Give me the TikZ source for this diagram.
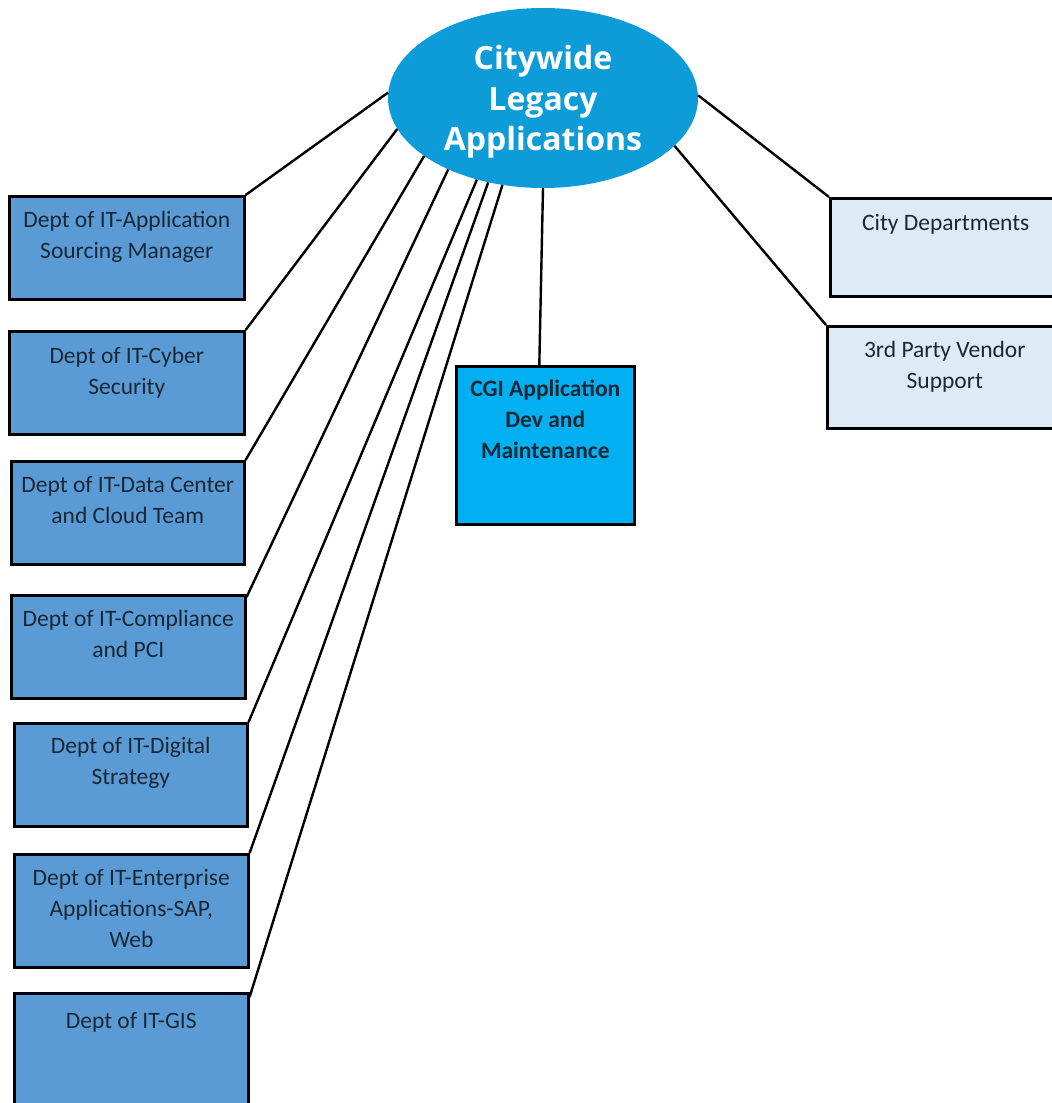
\documentclass[tikz,border=0pt]{standalone}
\usepackage{fontspec}
\setmainfont{Carlito}
\newfontfamily\headfont{Open Sans}
\usetikzlibrary{shapes.geometric}
\definecolor{deptblue}{HTML}{5B9BD5}
\definecolor{cgiblue}{HTML}{00B0F0}
\definecolor{hubblue}{HTML}{0E9CD8}
\definecolor{paleblue}{HTML}{DEEBF7}
\definecolor{inkdark}{HTML}{1A2836}
\tikzset{
  boxbase/.style={draw=black, line width=2.6pt, inner sep=0pt, anchor=north west},
  deptbox/.style={boxbase, fill=deptblue},
  cgibox/.style={boxbase, fill=cgiblue},
  palebox/.style={boxbase, fill=paleblue},
  boxtext/.style={anchor=north, inner sep=0pt, align=center, text=inkdark,
    font=\fontsize{23.5}{31}\selectfont, execute at begin node=\strut},
  link/.style={draw=black, line width=2.4pt},
}
\begin{document}
\begin{tikzpicture}[x=1pt, y=-1pt]
\useasboundingbox (0,0) rectangle (1052,1103);
\clip (0,0) rectangle (1052,1103);
\fill[white] (0,0) rectangle (1052,1103);

% central hub
\node[ellipse, fill=hubblue, minimum width=310pt, minimum height=180pt, inner sep=0pt]
  (hub) at (543,98) {};
\node[align=center, text=white, inner sep=0pt,
  font=\headfont\bfseries\fontsize{32}{40.5}\selectfont] (hubtext) at (543,102)
  {Citywide\\Legacy\\Applications};

% IT department boxes on the left
\node[deptbox, minimum width=235pt, minimum height=103pt] (d1) at (8,195) {};
\node[deptbox, minimum width=235pt, minimum height=103pt] (d2) at (8,330) {};
\node[deptbox, minimum width=233pt, minimum height=103pt] (d3) at (10,460) {};
\node[deptbox, minimum width=234pt, minimum height=103pt] (d4) at (10,594) {};
\node[deptbox, minimum width=233pt, minimum height=103pt] (d5) at (13,722) {};
\node[deptbox, minimum width=234pt, minimum height=113pt] (d6) at (13,853) {};
\node[deptbox, minimum width=234pt, minimum height=140pt] (d7) at (13,992) {};

\node[boxtext] (t1) at ([yshift=-16pt]d1.north) {Dept of IT-Application\\Sourcing Manager};
\node[boxtext] (t2) at ([yshift=-17pt]d2.north) {Dept of IT-Cyber\\Security};
\node[boxtext] (t3) at ([yshift=-16.5pt]d3.north) {Dept of IT-Data Center\\and Cloud Team};
\node[boxtext] (t4) at ([yshift=-16pt]d4.north) {Dept of IT-Compliance\\and PCI};
\node[boxtext] (t5) at ([yshift=-14.5pt]d5.north) {Dept of IT-Digital\\Strategy};
\node[boxtext] (t6) at ([yshift=-16pt]d6.north) {Dept of IT-Enterprise\\Applications-SAP,\\Web};
\node[boxtext] (t7) at ([yshift=-14.5pt]d7.north) {Dept of IT-GIS};

% development and maintenance box
\node[cgibox, minimum width=178pt, minimum height=158pt] (cgi) at (455,365) {};
\node[boxtext, font=\bfseries\fontsize{23.5}{31}\selectfont] (tc) at ([yshift=-14.5pt]cgi.north)
  {CGI Application\\Dev and\\Maintenance};

% boxes on the right
\node[palebox, minimum width=231pt, minimum height=98pt] (city) at (829,197) {};
\node[palebox, minimum width=235pt, minimum height=102pt] (vendor) at (826,325) {};
\node[boxtext] (tcity) at ([yshift=-12pt]city.north) {City Departments};
\node[boxtext] (tvendor) at ([yshift=-15.5pt]vendor.north) {3rd Party Vendor\\Support};

% connectors
\draw[link] (d1.north east) -- (hub.178);
\draw[link] (d2.north east) -- (hub.192.5);
\draw[link] (d3.north east) -- (hub.206);
\draw[link] ([yshift=-3pt]d4.north east) -- (hub.217);
\draw[link] (d5.north east) -- (hub.231.5);
\draw[link] (d6.north east) -- (hub.237);
\draw[link] ([yshift=-5pt]d7.north east) -- (hub.245);
\draw[link] ([xshift=-6pt]cgi.north) -- (hub.270);
\draw[link] (hub.1.5) -- (city.north west);
\draw[link] (hub.-20) -- (vendor.north west);
\end{tikzpicture}
\end{document}
